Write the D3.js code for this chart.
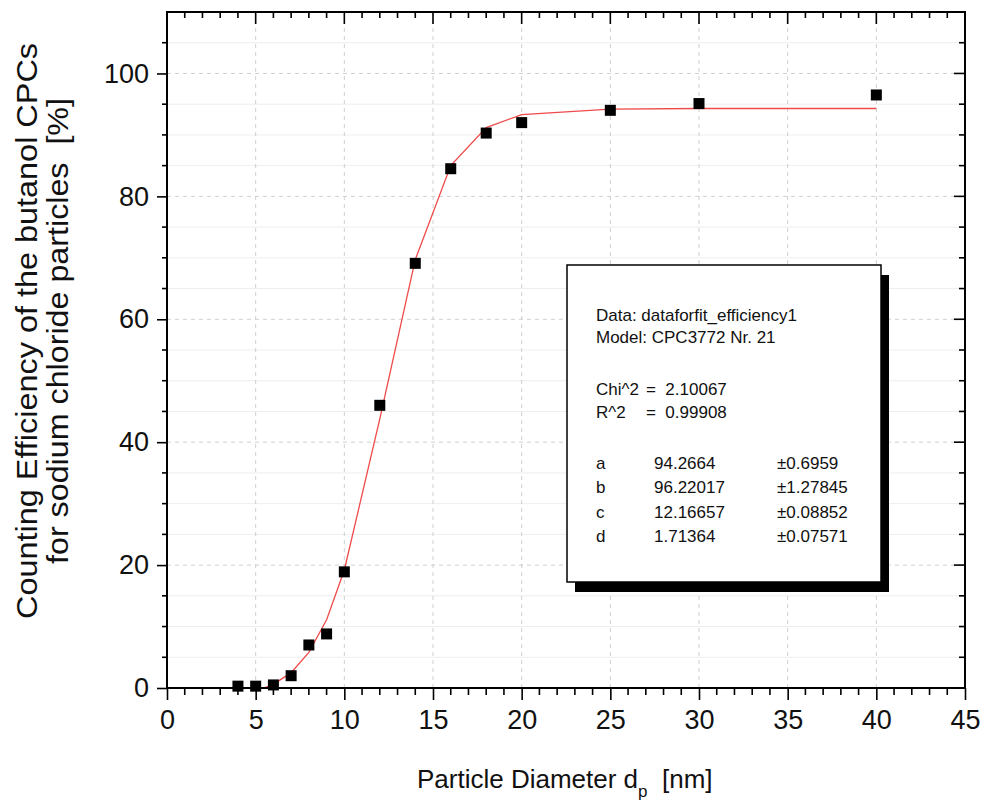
<!DOCTYPE html>
<html>
<head>
<meta charset="utf-8">
<script src="https://cdn.jsdelivr.net/npm/d3@7"></script>
<style>
  html, body { margin: 0; padding: 0; background: #fff; }
  svg { display: block; font-family: "Liberation Sans", Arial, sans-serif; }
</style>
</head>
<body>
<svg id="chart" width="986" height="807"></svg>
<script>
// ---- data ----
const diameters  = [4, 5, 6, 7, 8, 9, 10, 12, 14, 16, 18, 20, 25, 30, 40];
const efficiency = [0.3, 0.3, 0.5, 2.0, 7.0, 8.8, 18.9, 46.0, 69.1, 84.5, 90.3, 92.0, 94.0, 95.1, 96.5];
const fitDiameters  = [5.45, 6, 7, 8, 9, 10, 12, 14, 16, 18, 20, 25, 30, 40];
const fitEfficiency = [0, 0.6, 2.5, 5.8, 11.1, 19.2, 43.8, 69.7, 85.0, 91.2, 93.3, 94.2, 94.3, 94.3];
const xTickValues = [0, 5, 10, 15, 20, 25, 30, 35, 40, 45];
const yTickValues = [0, 20, 40, 60, 80, 100];
const legendHeader = ["Data: dataforfit_efficiency1", "Model: CPC3772 Nr. 21"];
const legendStats  = [["Chi^2", "=  2.10067"], ["R^2", "=  0.99908"]];
const paramNames   = ["a", "b", "c", "d"];
const paramValues  = ["94.2664", "96.22017", "12.16657", "1.71364"];
const paramErrors  = ["\u00B10.6959", "\u00B11.27845", "\u00B10.08852", "\u00B10.07571"];

const svg = d3.select("#chart");
const L = 167, R = 965, T = 12, B = 688;
const x = d3.scaleLinear().domain([0, 45]).range([L, R]);
const y = d3.scaleLinear().domain([0, 110]).range([B, T]);

// ---- grid ----
const grid = svg.append("g");
const yMinor = d3.range(5, 110, 5).filter(v => v % 20 !== 0);
grid.selectAll(".ym").data(yMinor).join("line")
  .attr("x1", L).attr("x2", R).attr("y1", d => y(d)).attr("y2", d => y(d))
  .attr("stroke", "#eeeeee").attr("stroke-width", 1);
grid.selectAll(".xg").data(xTickValues.filter(v => v > 0 && v < 45)).join("line")
  .attr("x1", d => x(d)).attr("x2", d => x(d)).attr("y1", T).attr("y2", B)
  .attr("stroke", "#cfcfcf").attr("stroke-width", 1).attr("stroke-dasharray", "4,4");
grid.selectAll(".yg").data(yTickValues.filter(v => v > 0)).join("line")
  .attr("x1", L).attr("x2", R).attr("y1", d => y(d)).attr("y2", d => y(d))
  .attr("stroke", "#cfcfcf").attr("stroke-width", 1).attr("stroke-dasharray", "4,4");

// ---- legend box (behind data) ----
const lg = svg.append("g");
const bx = 567, by = 265, bw = 314, bh = 317;
lg.append("rect").attr("x", bx + 8).attr("y", by + 10).attr("width", bw).attr("height", bh).attr("fill", "#000");
lg.append("rect").attr("x", bx).attr("y", by).attr("width", bw).attr("height", bh)
  .attr("fill", "#fff").attr("stroke", "#000").attr("stroke-width", 1.5);
const lfs = 17;
lg.selectAll(".lh").data(legendHeader).join("text")
  .attr("x", 596).attr("y", (d, i) => 321 + i * 22).attr("font-size", lfs).attr("fill", "#111").text(d => d);
lg.selectAll(".ls1").data(legendStats).join("text")
  .attr("x", 596).attr("y", (d, i) => 395 + i * 23).attr("font-size", lfs).attr("fill", "#111").text(d => d[0]);
lg.selectAll(".ls2").data(legendStats).join("text")
  .attr("x", 646).attr("y", (d, i) => 395 + i * 23).attr("font-size", lfs).attr("fill", "#111")
  .attr("xml:space", "preserve").text(d => d[1]);
lg.selectAll(".pn").data(paramNames).join("text")
  .attr("x", 596).attr("y", (d, i) => 469 + i * 24.3).attr("font-size", lfs).attr("fill", "#111").text(d => d);
lg.selectAll(".pv").data(paramValues).join("text")
  .attr("x", 654).attr("y", (d, i) => 469 + i * 24.3).attr("font-size", lfs).attr("fill", "#111").text(d => d);
lg.selectAll(".pe").data(paramErrors).join("text")
  .attr("x", 777).attr("y", (d, i) => 469 + i * 24.3).attr("font-size", lfs).attr("fill", "#111").text(d => d);

// ---- fit curve ----
const fitPts = fitDiameters.map((d, i) => [d, fitEfficiency[i]]);
svg.append("path").datum(fitPts)
  .attr("d", d3.line().x(d => x(d[0])).y(d => y(d[1])))
  .attr("fill", "none").attr("stroke", "#ef4a4a").attr("stroke-width", 1.3);

// ---- data markers ----
const ms = 11;
svg.selectAll(".pt").data(diameters.map((d, i) => [d, efficiency[i]])).join("rect")
  .attr("x", d => x(d[0]) - ms / 2).attr("y", d => y(d[1]) - ms / 2)
  .attr("width", ms).attr("height", ms).attr("fill", "#000");

// ---- axes ----
const tfs = 27;
// bottom
const xAxisB = d3.axisBottom(x).tickValues(xTickValues).tickSize(12).tickFormat(d3.format("d"));
const gB = svg.append("g").attr("transform", `translate(0,${B})`).call(xAxisB);
gB.select(".domain").remove();
gB.selectAll(".tick line").attr("stroke-width", 1.6);
gB.selectAll(".tick text").attr("font-size", tfs).attr("fill", "#111").attr("dy", "0.98em")
  .attr("font-family", "Liberation Sans, Arial, sans-serif");
const xMinor = d3.range(0, 46, 1).filter(v => v % 5 !== 0);
svg.append("g").selectAll("line").data(xMinor).join("line")
  .attr("x1", d => x(d)).attr("x2", d => x(d)).attr("y1", B).attr("y2", B + 7)
  .attr("stroke", "#000").attr("stroke-width", 1.6);
// top (inward)
svg.append("g").selectAll("line").data(d3.range(1, 45, 1)).join("line")
  .attr("x1", d => x(d)).attr("x2", d => x(d)).attr("y1", T).attr("y2", d => T + (d % 5 === 0 ? 12 : 6))
  .attr("stroke", "#000").attr("stroke-width", 1.6);
// left
const yAxisL = d3.axisLeft(y).tickValues(yTickValues).tickSize(10).tickPadding(8).tickFormat(d3.format("d"));
const gL = svg.append("g").attr("transform", `translate(${L},0)`).call(yAxisL);
gL.select(".domain").remove();
gL.selectAll(".tick line").attr("stroke-width", 1.6);
gL.selectAll(".tick text").attr("font-size", tfs).attr("fill", "#111")
  .attr("font-family", "Liberation Sans, Arial, sans-serif");
const yMinorTicks = d3.range(5, 110, 5).filter(v => v % 20 !== 0);
svg.append("g").selectAll("line").data(yMinorTicks).join("line")
  .attr("x1", L - 5).attr("x2", L).attr("y1", d => y(d)).attr("y2", d => y(d))
  .attr("stroke", "#000").attr("stroke-width", 1.6);
// right (inward)
svg.append("g").selectAll("line").data(d3.range(5, 110, 5)).join("line")
  .attr("x1", d => R - (d % 20 === 0 ? 11 : 6)).attr("x2", R).attr("y1", d => y(d)).attr("y2", d => y(d))
  .attr("stroke", "#000").attr("stroke-width", 1.6);
// frame
svg.append("rect").attr("x", L).attr("y", T).attr("width", R - L).attr("height", B - T)
  .attr("fill", "none").attr("stroke", "#000").attr("stroke-width", 2);

// ---- axis titles ----
const xt = svg.append("text").attr("x", 417).attr("y", 788).attr("font-size", 26).attr("fill", "#111")
  .attr("xml:space", "preserve");
xt.append("tspan").text("Particle Diameter d");
xt.append("tspan").attr("font-size", 17).attr("dy", 9).text("p");
xt.append("tspan").attr("dy", -9).text("  [nm]");

const yt = svg.append("g");
yt.append("text").attr("transform", "translate(37,331) rotate(-90)").attr("text-anchor", "middle")
  .attr("font-size", 30).attr("fill", "#111")
  .attr("textLength", 576).attr("lengthAdjust", "spacingAndGlyphs")
  .text("Counting Efficiency of the butanol CPCs");
yt.append("text").attr("transform", "translate(68,331) rotate(-90)").attr("text-anchor", "middle")
  .attr("font-size", 30).attr("fill", "#111").attr("xml:space", "preserve")
  .attr("textLength", 466).attr("lengthAdjust", "spacingAndGlyphs")
  .text("for sodium chloride particles  [%]");
</script>
</body>
</html>
